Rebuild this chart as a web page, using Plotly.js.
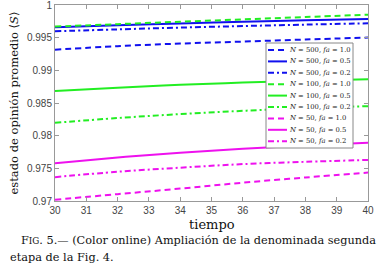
<!DOCTYPE html>
<html><head><meta charset="utf-8">
<script src="https://cdn.plot.ly/plotly-3.0.1.min.js"></script>
<style>html,body{margin:0;padding:0;background:#fff;}#chart{width:383px;height:280px;}</style>
</head><body><div id="chart"></div>
<script>
const tiempo = [30, 32, 34, 36, 38, 40];
const s500_10 = [0.99315, 0.99370, 0.99410, 0.99440, 0.99472, 0.99502];
const s500_05 = [0.99659, 0.99690, 0.99718, 0.99743, 0.99766, 0.99787];
const s500_02 = [0.99598, 0.99627, 0.99654, 0.99678, 0.99700, 0.99720];
const s100_10 = [0.99670, 0.99707, 0.99744, 0.99780, 0.99816, 0.99852];
const s100_05 = [0.98684, 0.98734, 0.98778, 0.98813, 0.98840, 0.98862];
const s100_02 = [0.98197, 0.98270, 0.98330, 0.98380, 0.98420, 0.98451];
const s50_10  = [0.97020, 0.97105, 0.97190, 0.97280, 0.97360, 0.97435];
const s50_05  = [0.97578, 0.97665, 0.97740, 0.97800, 0.97850, 0.97892];
const s50_02  = [0.97365, 0.97448, 0.97510, 0.97565, 0.97600, 0.97629];

const yTicks = [0.97, 0.975, 0.98, 0.985, 0.99, 0.995, 1];
const yTickText = ['0.97', '0.975', '0.98', '0.985', '0.99', '0.995', '1'];
const xTicks = [30, 31, 32, 33, 34, 35, 36, 37, 38, 39, 40];

const names = ['<i>N</i> = 500, <i>fa</i> = 1.0','<i>N</i> = 500, <i>fa</i> = 0.5','<i>N</i> = 500, <i>fa</i> = 0.2',
               '<i>N</i> = 100, <i>fa</i> = 1.0','<i>N</i> = 100, <i>fa</i> = 0.5','<i>N</i> = 100, <i>fa</i> = 0.2',
               '<i>N</i> = 50, <i>fa</i> = 1.0','<i>N</i> = 50, <i>fa</i> = 0.5','<i>N</i> = 50, <i>fa</i> = 0.2'];
const series = [s500_10, s500_05, s500_02, s100_10, s100_05, s100_02, s50_10, s50_05, s50_02];
const BLUE = '#1010ee', GREEN = '#22ee22', MAG = '#ee11ee';
const colors = [BLUE, BLUE, BLUE, GREEN, GREEN, GREEN, MAG, MAG, MAG];
const DASH = '6px,4px', DASHDOT = '6px,3px,2px,3px';
const dashes = [DASH, 'solid', DASHDOT, DASH, 'solid', DASHDOT, DASH, 'solid', DASHDOT];

const traces = series.map((s, i) => ({
  x: tiempo, y: s, type: 'scatter', mode: 'lines', name: names[i],
  line: {color: colors[i], width: 2, dash: dashes[i], shape: 'spline'},
  showlegend: false, hoverinfo: 'skip'
}));

// plot area in pixels: x 55..368, y 5..201
const L = 55, R = 368, T = 5, B = 201;
const px = v => (v - L) / (R - L);
const py = v => (B - v) / (B - T);
const SERIF = 'DejaVu Serif, Liberation Serif, serif';

const shapes = [];
const annotations = [];
shapes.push({type: 'rect', xref: 'paper', yref: 'paper', x0: px(266), x1: px(353), y0: py(148), y1: py(43),
  line: {color: '#888', width: 1}, fillcolor: '#fff', layer: 'above'});
names.forEach((n, i) => {
  const yc = 50 + i * 11.4;
  shapes.push({type: 'line', xref: 'paper', yref: 'paper', x0: px(268), x1: px(287), y0: py(yc), y1: py(yc),
    line: {color: colors[i], width: 2, dash: dashes[i]}, layer: 'above'});
  annotations.push({xref: 'paper', yref: 'paper', x: px(287), y: py(yc), xanchor: 'left', yanchor: 'middle',
    text: n, showarrow: false, font: {family: SERIF, size: 6.8, color: '#222'}});
});
annotations.push({xref: 'paper', yref: 'paper', x: px(19), y: py(240), xanchor: 'left', yanchor: 'middle', showarrow: false,
  text: 'F<span style="font-size:8.8px">IG</span>. 5.— (Color online) Ampliación de la denominada segunda',
  font: {family: SERIF, size: 11.3, color: '#111'}});
annotations.push({xref: 'paper', yref: 'paper', x: px(8), y: py(257), xanchor: 'left', yanchor: 'middle', showarrow: false,
  text: 'etapa de la Fig. 4.',
  font: {family: SERIF, size: 11.3, color: '#111'}});
annotations.push({xref: 'paper', yref: 'paper', x: px(212), y: py(224), xanchor: 'center', yanchor: 'middle', showarrow: false,
  text: 'tiempo', font: {family: SERIF, size: 13, color: '#111'}});

const axisCommon = {
  showgrid: false, zeroline: false, showline: true, linecolor: '#999', linewidth: 1, mirror: 'ticks',
  ticks: 'inside', ticklen: 4, tickcolor: '#999', ticklabeloverflow: 'allow',
  tickfont: {family: 'Liberation Sans, Arial, sans-serif', size: 10, color: '#444'}
};

const layout = {
  width: 383, height: 280,
  margin: {l: L, r: 383 - R, t: T, b: 280 - B},
  paper_bgcolor: '#fff', plot_bgcolor: '#fff',
  showlegend: false,
  xaxis: Object.assign({}, axisCommon, {range: [30, 40], tickvals: xTicks}),
  yaxis: Object.assign({}, axisCommon, {range: [0.97, 1], tickvals: yTicks, ticktext: yTickText,
    title: {text: 'estado de opinión promedio ⟨<i>S</i>⟩', standoff: 5, font: {family: SERIF, size: 11.5, color: '#111'}}}),
  shapes: shapes, annotations: annotations
};

Plotly.newPlot('chart', traces, layout, {staticPlot: true, displayModeBar: false});
</script></body></html>
